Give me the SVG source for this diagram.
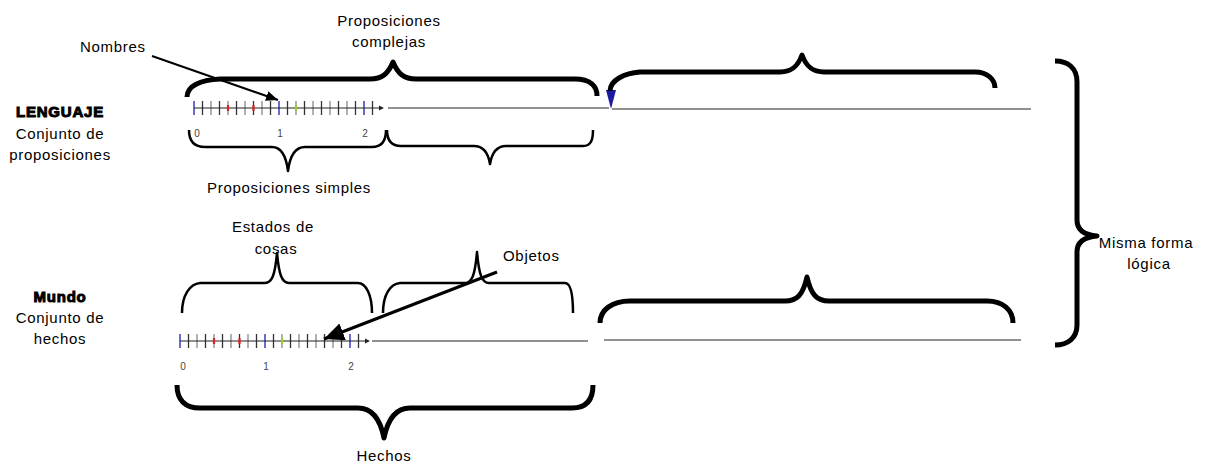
<svg xmlns="http://www.w3.org/2000/svg" xmlns:xlink="http://www.w3.org/1999/xlink" width="1214" height="468" viewBox="0 0 1214 468">
  <style>
    .lbl { font-family: "Liberation Sans", Arial, sans-serif; font-size: 15px; fill: #000; letter-spacing: 0.7px; }
    .head { font-family: "Liberation Sans", Arial, sans-serif; font-size: 15px; font-weight: bold; fill: #000; stroke: #000; stroke-width: 1px; letter-spacing: 0.8px; }
    .num { font-family: "Liberation Sans", Arial, sans-serif; font-size: 10px; fill: #444; }
    .brace-thick { fill: none; stroke: #000; stroke-width: 5; stroke-linejoin: round; }
    .brace-thin { fill: none; stroke: #000; stroke-width: 2.5; stroke-linejoin: round; }
    .rule { stroke: #222; stroke-width: 1.2; }
    .tick { stroke: #333; stroke-width: 1.3; }
    .tick2 { stroke: #888; stroke-width: 1.3; }
    .tickb { stroke: #5b5bd0; stroke-width: 1.8; }
  </style>
  <defs>
    <!-- number line: origin at the zero tick, axis on y=0 -->
    <g id="scale">
      <g class="tick">
        <line x1="8.5" y1="-7" x2="8.5" y2="7"/><line x1="25.5" y1="-7" x2="25.5" y2="7"/>
        <line x1="42.5" y1="-7" x2="42.5" y2="7"/><line x1="59.5" y1="-7" x2="59.5" y2="7"/>
        <line x1="76.5" y1="-7" x2="76.5" y2="7"/><line x1="93.5" y1="-7" x2="93.5" y2="7"/>
        <line x1="110.5" y1="-7" x2="110.5" y2="7"/><line x1="127.5" y1="-7" x2="127.5" y2="7"/>
        <line x1="144.5" y1="-7" x2="144.5" y2="7"/><line x1="161.5" y1="-7" x2="161.5" y2="7"/>
        <line x1="178.5" y1="-7" x2="178.5" y2="7"/>
      </g>
      <g class="tick2">
        <line x1="17" y1="-7" x2="17" y2="7"/><line x1="34" y1="-7" x2="34" y2="7"/>
        <line x1="51" y1="-7" x2="51" y2="7"/><line x1="68" y1="-7" x2="68" y2="7"/>
        <line x1="102" y1="-7" x2="102" y2="7"/><line x1="119" y1="-7" x2="119" y2="7"/>
        <line x1="136" y1="-7" x2="136" y2="7"/><line x1="153" y1="-7" x2="153" y2="7"/>
      </g>
      <g class="tickb">
        <line x1="0" y1="-7" x2="0" y2="7"/><line x1="85" y1="-7" x2="85" y2="7"/>
        <line x1="170" y1="-7" x2="170" y2="7"/>
      </g>
      <line x1="0" y1="0" x2="186" y2="0" class="rule"/>
      <polygon points="185,-2.5 190,0 185,2.5" fill="#222"/>
      <line x1="34" y1="-3" x2="34" y2="3" stroke="#e02020" stroke-width="2.2"/>
      <line x1="59.5" y1="-3" x2="59.5" y2="3" stroke="#e02020" stroke-width="2.2"/>
      <line x1="102" y1="-3" x2="102" y2="3" stroke="#9acd32" stroke-width="2.2"/>
      <text class="num" x="3" y="29" text-anchor="middle">0</text>
      <text class="num" x="86" y="29" text-anchor="middle">1</text>
      <text class="num" x="171" y="29" text-anchor="middle">2</text>
    </g>
    <marker id="arrow-small" markerUnits="userSpaceOnUse" markerWidth="14" markerHeight="12" refX="12" refY="5" orient="auto">
      <polygon points="0,0 12,5 0,10" fill="#000"/>
    </marker>
    <marker id="arrow-big" markerUnits="userSpaceOnUse" markerWidth="22" markerHeight="20" refX="20" refY="9" orient="auto">
      <polygon points="0,0 20,9 0,18" fill="#000"/>
    </marker>
  </defs>

  <!-- LENGUAJE side -->
  <g id="lenguaje">
    <text class="head" x="60" y="117" text-anchor="middle">LENGUAJE</text>
    <text class="lbl" x="60" y="139" text-anchor="middle">Conjunto de</text>
    <text class="lbl" x="60" y="160" text-anchor="middle">proposiciones</text>
  </g>
  <g id="lenguaje-scale">
    <use xlink:href="#scale" x="194" y="108"/>
    <line x1="388" y1="108" x2="609" y2="108" class="rule"/>
    <line x1="612" y1="109" x2="1031" y2="109" class="rule"/>
    <polygon points="606,90 616,90 611,109" fill="#1c1ca0"/>
  </g>
  <g id="nombres">
    <text class="lbl" x="80" y="52">Nombres</text>
  </g>
  <g id="complejas">
    <text class="lbl" x="389" y="26" text-anchor="middle">Proposiciones</text>
    <text class="lbl" x="389" y="47" text-anchor="middle">complejas</text>
    <path class="brace-thick" d="M187,97 C187,86 200,80 220,79 L370,79 C382,79 388,74 393,62 C398,74 404,79 416,79 L575,79 C590,79 597,86 597,96"/>
  </g>
  <g id="complejas-extension">
    <path class="brace-thick" d="M610,91 C610,80 625,73 640,72 L780,72 C792,72 798,66 802,55 C806,66 812,72 824,72 L975,72 C988,72 995,80 995,88"/>
  </g>
  <g id="simples">
    <path class="brace-thin" d="M189,130 C189,140 193,147 205,147 L272,147 C281,147 286,155 288,171 C290,155 295,147 305,147 L372,147 C382,147 386,140 386,130"/>
    <path class="brace-thin" d="M387,130 C387,140 391,146 401,146 L474,146 C483,146 488,152 490,164 C492,152 497,146 506,146 L583,146 C591,146 593,140 593,130"/>
    <text class="lbl" x="289" y="193" text-anchor="middle">Proposiciones simples</text>
  </g>

  <!-- Mundo side -->
  <g id="mundo">
    <text class="head" x="60" y="302" text-anchor="middle">Mundo</text>
    <text class="lbl" x="60" y="323" text-anchor="middle">Conjunto de</text>
    <text class="lbl" x="60" y="344" text-anchor="middle">hechos</text>
  </g>
  <g id="mundo-scale">
    <use xlink:href="#scale" x="180" y="341"/>
    <line x1="372" y1="341" x2="588" y2="341" class="rule"/>
    <line x1="604" y1="340" x2="1021" y2="340" class="rule"/>
  </g>
  <g id="estados">
    <text class="lbl" x="273" y="232" text-anchor="middle">Estados de</text>
    <text class="lbl" x="276" y="254" text-anchor="middle">cosas</text>
    <path class="brace-thin" d="M182,313 C182,295 190,284 200,283 L265,283 C272,283 275,275 277,253 C279,275 282,283 289,283 L358,283 C366,283 372,295 372,313"/>
    <path class="brace-thin" d="M383,313 C383,295 390,284 400,283 L465,283 C472,283 475,275 477,252 C479,275 482,283 489,283 L565,283 C571,283 573,295 573,313"/>
  </g>
  <g id="objetos">
    <text class="lbl" x="503" y="261">Objetos</text>
  </g>
  <g id="estados-extension">
    <path class="brace-thick" d="M600,323 C600,310 612,301 630,301 L785,301 C797,301 803,295 807,277 C811,295 817,301 829,301 L987,301 C1003,301 1013,310 1013,323"/>
  </g>
  <g id="hechos">
    <path class="brace-thick" d="M177,385 C177,400 185,408 200,408 L358,408 C372,408 380,418 384,438 C388,418 396,408 410,408 L572,408 C586,408 593,400 593,385"/>
    <text class="lbl" x="384" y="461" text-anchor="middle">Hechos</text>
  </g>

  <!-- shared logical form -->
  <g id="forma-logica">
    <path class="brace-thick" d="M1055,61 C1068,61 1077,68 1077,82 L1077,220 C1077,230 1085,235 1097,236 C1085,237 1077,242 1077,252 L1077,325 C1077,338 1068,345 1055,345"/>
    <text class="lbl" x="1146" y="248" text-anchor="middle">Misma forma</text>
    <text class="lbl" x="1149" y="269" text-anchor="middle">lógica</text>
  </g>

  <!-- pointers -->
  <g id="connectors">
    <line x1="152" y1="56" x2="278" y2="100" stroke="#000" stroke-width="2" marker-end="url(#arrow-small)"/>
    <line x1="497" y1="272" x2="324" y2="339" stroke="#000" stroke-width="3" marker-end="url(#arrow-big)"/>
  </g>
</svg>
